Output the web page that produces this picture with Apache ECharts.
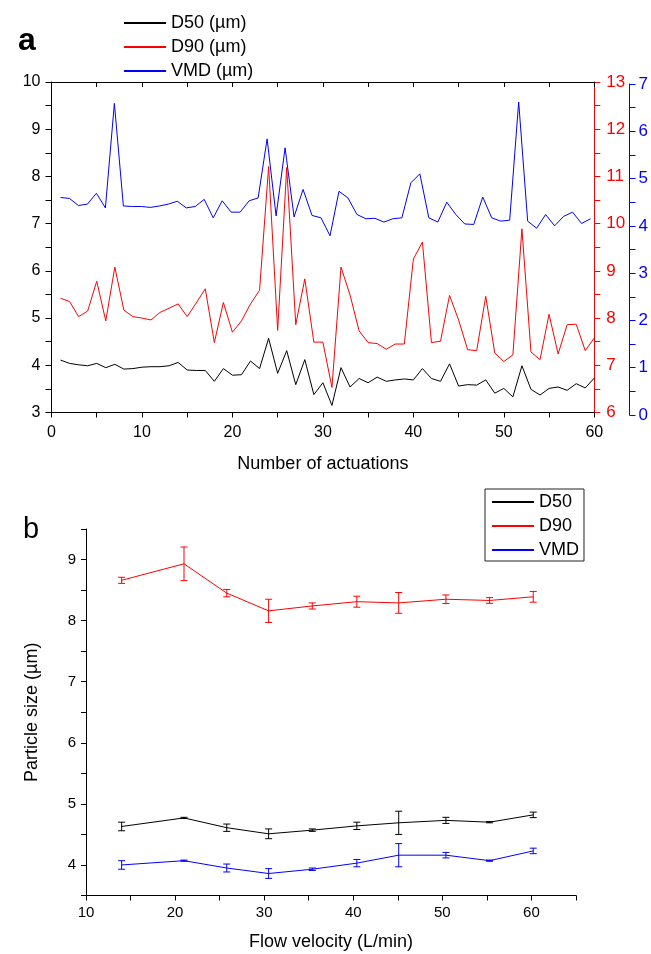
<!DOCTYPE html>
<html><head><meta charset="utf-8">
<script src="https://cdn.jsdelivr.net/npm/echarts@6/dist/echarts.min.js"></script>
<style>html,body{margin:0;padding:0;background:#fff}#c{width:651px;height:954px}</style>
</head><body><div id="c"></div>
<script>
const actuations = [1,2,3,4,5,6,7,8,9,10,11,12,13,14,15,16,17,18,19,20,21,22,23,24,25,26,27,28,29,30,31,32,33,34,35,36,37,38,39,40,41,42,43,44,45,46,47,48,49,50,51,52,53,54,55,56,57,58,59,60];
const d50Act = [4.11,4.04,4.01,3.99,4.04,3.95,4.02,3.92,3.93,3.96,3.97,3.97,3.99,4.06,3.90,3.89,3.89,3.66,3.93,3.79,3.80,4.09,3.93,4.57,3.83,4.31,3.59,4.12,3.38,3.63,3.15,3.95,3.54,3.72,3.63,3.75,3.66,3.69,3.71,3.69,3.93,3.72,3.66,4.03,3.56,3.59,3.58,3.69,3.41,3.51,3.33,3.99,3.49,3.37,3.51,3.54,3.47,3.61,3.52,3.73];
const d90Act = [8.42,8.35,8.03,8.15,8.78,7.94,9.08,8.17,8.03,8.00,7.96,8.12,8.21,8.30,8.03,8.32,8.62,7.48,8.33,7.70,7.94,8.30,8.59,11.21,7.74,11.19,7.86,8.83,7.49,7.49,6.53,9.08,8.49,7.73,7.48,7.46,7.34,7.45,7.45,9.25,9.61,7.48,7.51,8.48,7.96,7.33,7.31,8.46,7.26,7.08,7.22,9.89,7.28,7.12,8.08,7.24,7.86,7.87,7.31,7.58];
const vmdAct = [4.60,4.58,4.43,4.46,4.69,4.38,6.59,4.42,4.41,4.41,4.39,4.42,4.46,4.52,4.38,4.41,4.56,4.17,4.53,4.29,4.29,4.53,4.59,5.84,4.21,5.65,4.19,4.77,4.22,4.17,3.79,4.73,4.59,4.24,4.15,4.16,4.08,4.15,4.17,4.91,5.10,4.17,4.08,4.50,4.24,4.04,4.03,4.61,4.17,4.10,4.12,6.62,4.10,3.95,4.24,4.00,4.20,4.29,4.05,4.15];

const flowVelocity = [14, 21, 25.8, 30.5, 35.4, 40.4, 45.1, 50.4, 55.3, 60.2];
const d50Mean = [4.63,4.77,4.61,4.51,4.57,4.64,4.69,4.73,4.70,4.82];
const d50Err  = [0.07,0.01,0.06,0.08,0.02,0.06,0.19,0.05,0.01,0.045];
const d90Mean = [8.66,8.93,8.45,8.16,8.24,8.31,8.29,8.35,8.33,8.39];
const d90Err  = [0.05,0.275,0.06,0.19,0.05,0.09,0.17,0.07,0.047,0.088];
const vmdMean = [4.00,4.07,3.95,3.86,3.93,4.03,4.16,4.16,4.07,4.23];
const vmdErr  = [0.07,0.01,0.065,0.08,0.02,0.06,0.19,0.045,0.01,0.045];

const FONT = '"Liberation Sans", Arial, sans-serif';
const BLACK = '#000000', RED = '#ff0000', BLUE = '#0000ff';

function pairs(xs, ys){ return xs.map((x,i)=>[x, ys[i]]); }
function errData(xs, m, e){ return xs.map((x,i)=>[x, m[i]-e[i], m[i]+e[i]]); }
function errSeries(name, xs, m, e, color){
  return {
    type:'custom', name:name, xAxisIndex:3, yAxisIndex:3, data:errData(xs,m,e), silent:true, z:3,
    renderItem:function(params, api){
      const x=api.value(0), lo=api.value(1), hi=api.value(2);
      const a=api.coord([x,lo]), b=api.coord([x,hi]); const w=3.5;
      const st={stroke:color, lineWidth:1};
      return {type:'group', children:[
        {type:'line', shape:{x1:a[0],y1:a[1],x2:b[0],y2:b[1]}, style:st},
        {type:'line', shape:{x1:a[0]-w,y1:a[1],x2:a[0]+w,y2:a[1]}, style:st},
        {type:'line', shape:{x1:b[0]-w,y1:b[1],x2:b[0]+w,y2:b[1]}, style:st}
      ]};
    }
  };
}
const intLabel = v => (Math.abs(v - Math.round(v)) < 1e-6 ? String(Math.round(v)) : '');
const tenLabel = v => (Math.abs(v % 10) < 1e-6 ? String(v) : '');

const chart = echarts.init(document.getElementById('c'), null, {renderer:'canvas'});
const lbl = (c, s) => ({color:c, fontFamily:FONT, fontSize:s || 15});
chart.setOption({
  animation:false,
  backgroundColor:'#fff',
  textStyle:{fontFamily:FONT},
  title:[
    {text:'a', left:13, top:20, textStyle:{fontFamily:FONT, fontSize:32, fontWeight:'bold', color:'#000'}},
    {text:'b', left:18, top:510, textStyle:{fontFamily:FONT, fontSize:29, fontWeight:'normal', color:'#000'}}
  ],
  legend:[
    {orient:'vertical', left:119, top:9, itemWidth:42, itemHeight:2, itemGap:6, icon:'rect',
     data:['D50 (µm)','D90 (µm)','VMD (µm)'], textStyle:{fontFamily:FONT, fontSize:18, color:'#000'}},
    {orient:'vertical', left:485, top:489, itemWidth:42, itemHeight:2, itemGap:6, icon:'rect',
     borderColor:'#222', borderWidth:1, padding:[4,5,2,7],
     data:['D50','D90','VMD'], textStyle:{fontFamily:FONT, fontSize:18, color:'#000'}}
  ],
  grid:[
    {left:51.5, right:56.7, top:82, bottom:541.5},
    {left:51.5, right:56.7, top:84, bottom:539},
    {left:86, right:75, top:529, bottom:58.5}
  ],
  xAxis:[
    {gridIndex:0, type:'value', min:0, max:60, interval:5, position:'bottom',
     name:'Number of actuations', nameLocation:'middle', nameGap:43,
     nameTextStyle:{fontFamily:FONT, fontSize:18, color:'#000'},
     axisLine:{onZero:false, lineStyle:{color:BLACK, width:1}}, axisTick:{length:5, lineStyle:{color:BLACK}},
     axisLabel:Object.assign(lbl(BLACK,16), {margin:12, formatter:tenLabel}), splitLine:{show:false}},
    {gridIndex:0, type:'value', min:0, max:60, interval:5, position:'top',
     axisLine:{onZero:false, lineStyle:{color:BLACK, width:1}}, axisTick:{inside:true, length:5, lineStyle:{color:BLACK}},
     axisLabel:{show:false}, splitLine:{show:false}},
    {gridIndex:1, type:'value', min:0, max:60, show:false},
    {gridIndex:2, type:'value', min:10, max:65, interval:5,
     name:'Flow velocity (L/min)', nameLocation:'middle', nameGap:38,
     nameTextStyle:{fontFamily:FONT, fontSize:18, color:'#000'},
     axisLine:{onZero:false, lineStyle:{color:BLACK, width:1}}, axisTick:{length:5, lineStyle:{color:BLACK}},
     axisLabel:Object.assign(lbl(BLACK,15), {margin:10, formatter:tenLabel}), splitLine:{show:false}}
  ],
  yAxis:[
    {gridIndex:0, type:'value', min:3, max:10, interval:0.5, position:'left',
     axisLine:{show:true, onZero:false, lineStyle:{color:BLACK, width:1}}, axisTick:{show:true, length:6, lineStyle:{color:BLACK}},
     axisLabel:Object.assign(lbl(BLACK,16), {margin:11, formatter:intLabel}), splitLine:{show:false}},
    {gridIndex:0, type:'value', min:6, max:13, interval:0.5, position:'right',
     axisLine:{show:true, onZero:false, lineStyle:{color:RED, width:1}}, axisTick:{show:true, length:6, lineStyle:{color:RED}},
     axisLabel:Object.assign(lbl(RED,17), {margin:12, formatter:intLabel}), splitLine:{show:false}},
    {gridIndex:1, type:'value', min:0, max:7, interval:0.5, position:'right', offset:39,
     axisLine:{show:true, onZero:false, lineStyle:{color:BLUE, width:1}}, axisTick:{show:true, length:6, lineStyle:{color:BLUE}},
     axisLabel:Object.assign(lbl(BLUE,17), {margin:9, formatter:intLabel}), splitLine:{show:false}},
    {gridIndex:2, type:'value', min:3.5, max:9.5, interval:0.5,
     name:'Particle size (µm)', nameLocation:'middle', nameGap:45,
     nameTextStyle:{fontFamily:FONT, fontSize:18, color:'#000'},
     axisLine:{show:true, onZero:false, lineStyle:{color:BLACK, width:1}}, axisTick:{show:true, length:5, lineStyle:{color:BLACK}},
     axisLabel:Object.assign(lbl(BLACK,15), {margin:10, formatter:intLabel}), splitLine:{show:false}}
  ],
  series:[
    {type:'line', name:'D50 (µm)', xAxisIndex:0, yAxisIndex:0, data:pairs(actuations,d50Act), symbol:'none', color:BLACK, lineStyle:{width:1, color:BLACK}},
    {type:'line', name:'D90 (µm)', xAxisIndex:0, yAxisIndex:1, data:pairs(actuations,d90Act), symbol:'none', color:RED, lineStyle:{width:1, color:RED}},
    {type:'line', name:'VMD (µm)', xAxisIndex:2, yAxisIndex:2, data:pairs(actuations,vmdAct), symbol:'none', color:BLUE, lineStyle:{width:1, color:BLUE}},
    {type:'line', name:'D50', xAxisIndex:3, yAxisIndex:3, data:pairs(flowVelocity,d50Mean), symbol:'none', color:BLACK, lineStyle:{width:1, color:BLACK}},
    {type:'line', name:'D90', xAxisIndex:3, yAxisIndex:3, data:pairs(flowVelocity,d90Mean), symbol:'none', color:RED, lineStyle:{width:1, color:RED}},
    {type:'line', name:'VMD', xAxisIndex:3, yAxisIndex:3, data:pairs(flowVelocity,vmdMean), symbol:'none', color:BLUE, lineStyle:{width:1, color:BLUE}},
    errSeries('D50 err', flowVelocity, d50Mean, d50Err, BLACK),
    errSeries('D90 err', flowVelocity, d90Mean, d90Err, RED),
    errSeries('VMD err', flowVelocity, vmdMean, vmdErr, BLUE)
  ]
});
</script>
</body></html>
